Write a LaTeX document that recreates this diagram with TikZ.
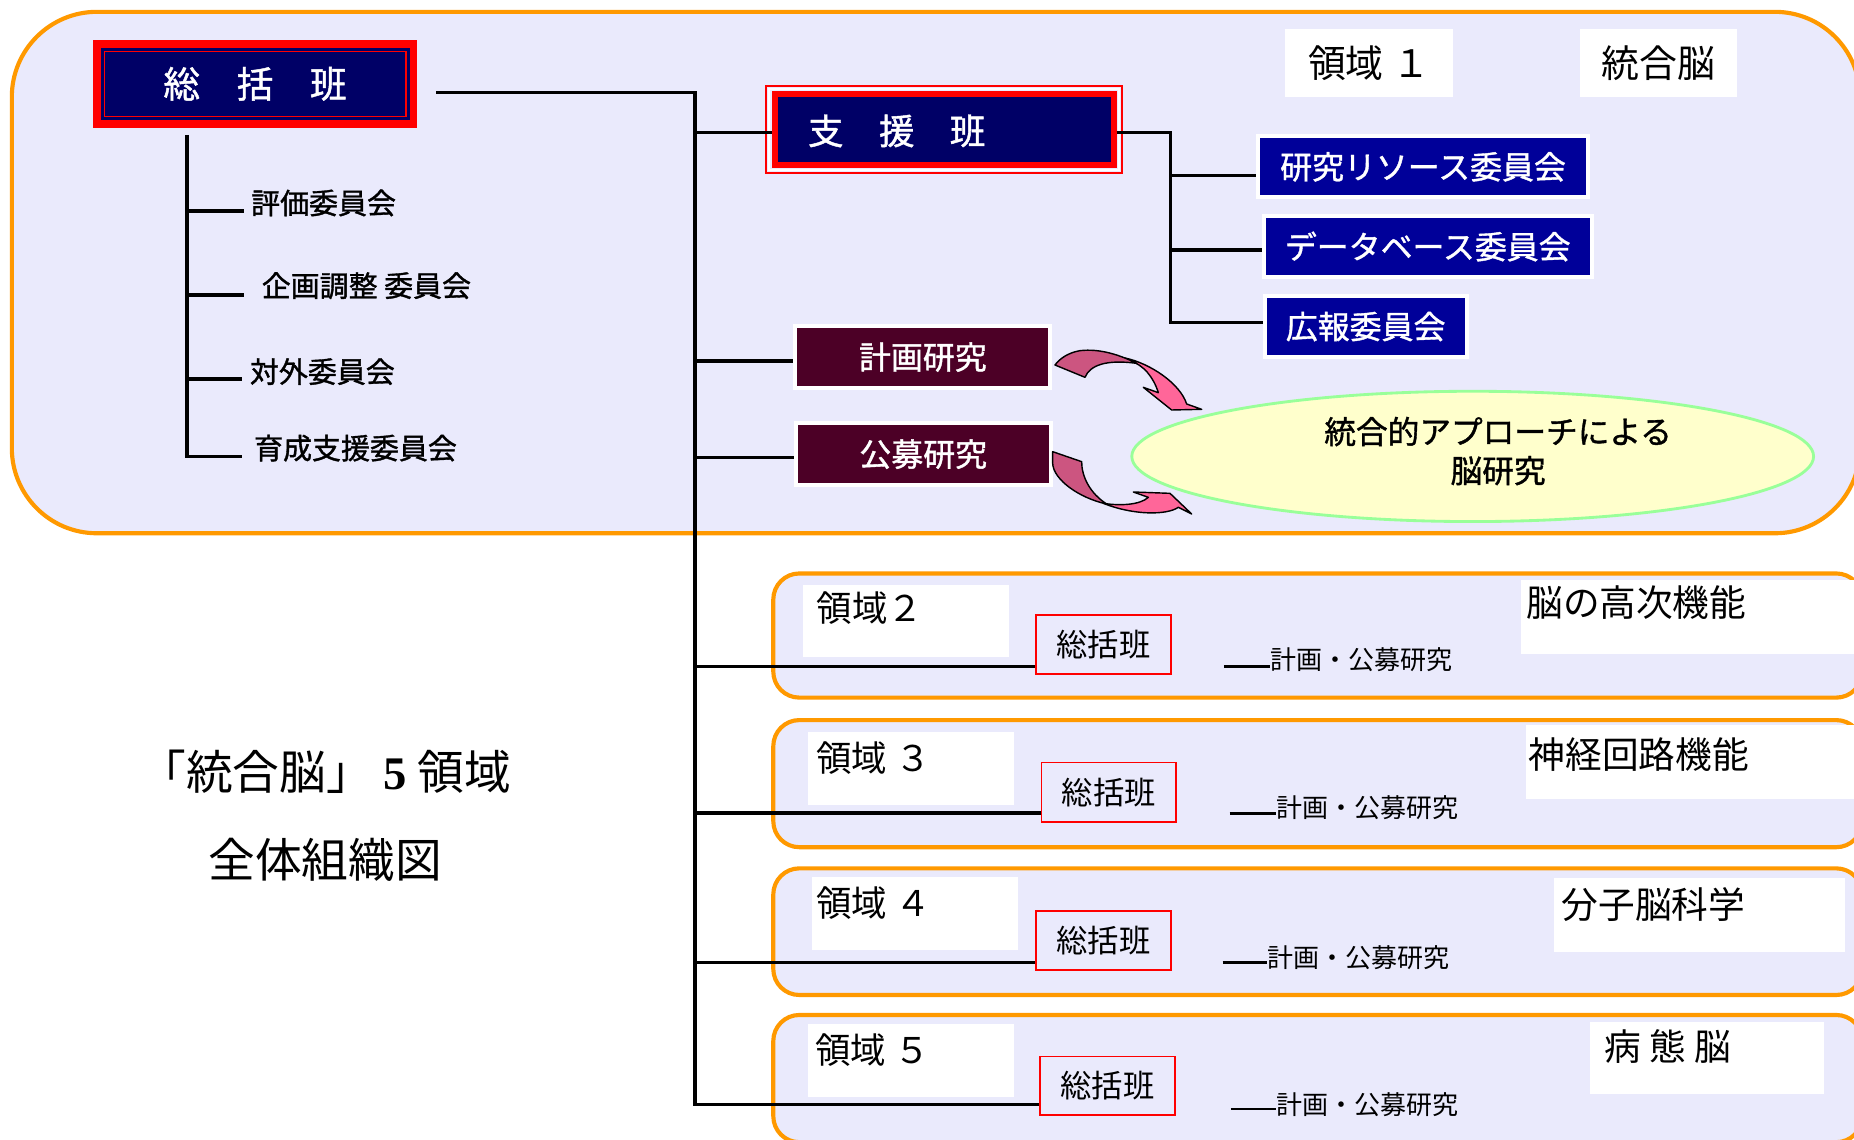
\documentclass[tikz,border=0pt]{standalone}
\usepackage{fontspec}
\setmainfont{Noto Sans CJK JP}
\newfontfamily\medjp{Noto Sans CJK JP}[FakeBold=1.2]
\newfontfamily\serifbf{Liberation Serif Bold}
\usetikzlibrary{shapes.geometric}
\definecolor{bgLav}{RGB}{234,234,252}
\definecolor{orangeB}{RGB}{255,153,0}
\definecolor{navyA}{RGB}{0,0,102}
\definecolor{blueB}{RGB}{0,0,153}
\definecolor{maroonC}{RGB}{76,0,38}
\definecolor{ellFill}{RGB}{255,255,204}
\definecolor{ellLine}{RGB}{153,255,153}
\definecolor{pinkL}{RGB}{255,102,153}
\definecolor{pinkD}{RGB}{204,85,128}
\newcommand{\myfs}[1]{\fontsize{#1}{#1}\selectfont}
\tikzset{
 ln/.style={line width=1.5pt, black},
 lnthin/.style={line width=1.1pt, black},
 regbox/.style={draw=orangeB, fill=bgLav, line width=1.75pt},
 mainbox/.style={fill=navyA, draw=red, line width=3.25pt, minimum width=133.9pt, minimum height=33.85pt, inner sep=0pt, text=white, font=\medjp\myfs{15.5pt}},
 shienbox/.style={fill=navyA, draw=red, line width=2.5pt, minimum width=143.3pt, minimum height=29.7pt, inner sep=0pt},
 bluebox/.style={fill=blueB, draw=white, line width=1.7pt, inner sep=0pt, minimum height=25.8pt, text=white, font=\medjp\myfs{13.5pt}},
 maroonbox/.style={fill=maroonC, draw=white, line width=1.7pt, inner sep=0pt, minimum width=107.8pt, minimum height=26.2pt, text=white, font=\medjp\myfs{13.5pt}},
 labelbg/.style={fill=white, draw=none, inner sep=0pt},
 smallhead/.style={draw=red, line width=0.75pt, fill=bgLav, inner sep=0pt, minimum width=57pt, minimum height=25.2pt, font=\myfs{13.25pt}},
 cmt/.style={anchor=west, inner sep=0pt, font=\medjp\myfs{12.25pt}},
 plan/.style={anchor=west, inner sep=0pt, font=\myfs{11pt}},
 lbl/.style={anchor=west, inner sep=0pt, font=\myfs{15pt}},
 rlbl/.style={anchor=west, inner sep=0pt, font=\myfs{15.5pt}},
 arrowL/.style={fill=pinkL, draw=black, line width=0.6pt, line join=round},
 arrowD/.style={fill=pinkD, draw=black, line width=0.6pt, line join=round},
}
\begin{document}
\begin{tikzpicture}[x=0.5pt,y=-0.5pt]
\useasboundingbox (0,0) rectangle (1568,963.3);
\clip (0,0) rectangle (1568,963.3);
\fill[white] (0,0) rectangle (1568,963.3);

% region frames
\draw[regbox, rounded corners=36pt] (10,10) rectangle (1573,451);
\draw[regbox, rounded corners=11pt] (654,485) rectangle (1575,590);
\draw[regbox, rounded corners=11pt] (654,609) rectangle (1575,716.5);
\draw[regbox, rounded corners=11pt] (654,734.4) rectangle (1575,841.5);
\draw[regbox, rounded corners=11pt] (654,858.4) rectangle (1575,966);

% main head box
\node[mainbox] (sk) at (215.75,70.9) {総　括　班};
\draw[red, line width=0.6pt] ([shift={(4.8pt,-4.8pt)}]sk.north west) rectangle ([shift={(-4.8pt,4.8pt)}]sk.south east);

% support box
\node[shienbox] (sh) at (798.5,109.5) {};
\draw[white, line width=0.6pt] ([shift={(-1.1pt,1.1pt)}]sh.north west) rectangle ([shift={(1.1pt,-1.1pt)}]sh.south east);
\draw[red, line width=0.6pt] ([shift={(-2.35pt,2.35pt)}]sh.north west) rectangle ([shift={(2.35pt,-2.35pt)}]sh.south east);
\node[anchor=west, inner sep=0pt, text=white, font=\medjp\myfs{15pt}] (shT) at (683,110.7) {支　援　班};

% committees under main head
\node[cmt] (cm1) at (212,171.7) {評価委員会};
\node[cmt] (cm2) at (221,241.6) {企画調整 委員会};
\node[cmt] (cm3) at (211,314.3) {対外委員会};
\node[cmt] (cm4) at (214.5,379) {育成支援委員会};
\coordinate (lv0) at (158,114);
\coordinate (lv1) at (158,178.5);
\coordinate (lv2) at (158,249.5);
\coordinate (lv3) at (158,320.6);
\coordinate (lv4) at (158,386);
\coordinate (le1) at (206,178.5);
\coordinate (le2) at (206,249.5);
\coordinate (le3) at (205,320.6);
\coordinate (le4) at (205,386);
\draw[ln] (lv0) -- (lv4) -- (le4);
\draw[ln] (lv1) -- (le1);
\draw[ln] (lv2) -- (le2);
\draw[ln] (lv3) -- (le3);

% blue committees
\node[bluebox, minimum width=139.8pt] (r1) at (1203.5,141.1) {研究リソース委員会};
\node[bluebox, minimum width=138.8pt] (r2) at (1207.5,208.5) {データベース委員会};
\node[bluebox, minimum width=85.3pt] (r3) at (1155,276.2) {広報委員会};
\coordinate (sA) at (990,112);
\coordinate (sB) at (990,272.6);
\coordinate (s1) at (990,148.6);
\coordinate (s2) at (990,211.4);
\draw[ln] (sh.east |- sA) -- (sA) -- (sB) -- (sB -| r3.west);
\draw[ln] (s1) -- (s1 -| r1.west);
\draw[ln] (s2) -- (s2 -| r2.west);

% plan / public research
\node[maroonbox] (kk) at (780.5,302) {計画研究};
\node[maroonbox] (km) at (780.8,384.1) {公募研究};

% ellipse
\node[ellipse, draw=ellLine, fill=ellFill, line width=1.2pt, minimum width=288.3pt, minimum height=55.1pt, inner sep=0pt] (ell) at (1245.5,386) {};
\node[align=center, inner sep=0pt, font=\medjp\fontsize{13.4pt}{16.5pt}\selectfont] (ellT) at (1267,381.5) {統合的アプローチによる\\脳研究};

% area 1 labels
\node[labelbg, minimum width=71.15pt, minimum height=28.5pt, font=\myfs{16pt}] (lb1) at (1157.85,53.3) {領域 １};
\node[labelbg, minimum width=66.5pt, minimum height=28.5pt, font=\myfs{16pt}] (rb1) at (1402.5,53.3) {統合脳};

% areas 2-5: label backgrounds
\node[labelbg, minimum width=87pt, minimum height=30.6pt] (lb2) at (766,525.4) {};
\node[labelbg, minimum width=87pt, minimum height=30.9pt] (lb3) at (770.6,649.9) {};
\node[labelbg, minimum width=87.1pt, minimum height=30.85pt] (lb4) at (773.9,772.65) {};
\node[labelbg, minimum width=87pt, minimum height=30.75pt] (lb5) at (770.6,896.75) {};
\node[labelbg, minimum width=152pt, minimum height=31.25pt] (rb2) at (1438,521.75) {};
\node[labelbg, minimum width=149.8pt, minimum height=31.35pt] (rb3) at (1440.2,644.35) {};
\node[labelbg, minimum width=123pt, minimum height=31.15pt] (rb4) at (1437,773.85) {};
\node[labelbg, minimum width=99pt, minimum height=30.5pt] (rb5) at (1444,894.5) {};
\node[lbl] (lt2) at (690.5,514) {領域２};
\node[lbl] (lt3) at (690,641) {領域 ３};
\node[lbl] (lt4) at (690,763.8) {領域 ４};
\node[lbl] (lt5) at (689,888) {領域 ５};
\node[rlbl] (rt2) at (1290.5,510) {脳の高次機能};
\node[rlbl] (rt3) at (1292.5,638.5) {神経回路機能};
\node[rlbl] (rt4) at (1320.5,765.4) {分子脳科学};
\node[rlbl] (rt5) at (1356.5,885) {病 態 脳};

% area heads
\node[smallhead] (k2) at (933.25,545) {総括班};
\node[smallhead] (k3) at (937.8,670) {総括班};
\node[smallhead, minimum height=25pt] (k4) at (933.25,795.3) {総括班};
\node[smallhead, minimum height=24.75pt] (k5) at (936.65,918.3) {総括班};

% plan texts
\node[plan] (kp2) at (1074.4,558) {計画・公募研究};
\node[plan] (kp3) at (1079,683.4) {計画・公募研究};
\node[plan] (kp4) at (1071.3,809.7) {計画・公募研究};
\node[plan] (kp5) at (1078.8,934.5) {計画・公募研究};
\coordinate (p2) at (1035,563.8);
\coordinate (p3) at (1040,687.8);
\coordinate (p4) at (1034,814.2);
\coordinate (p5) at (1041,938);
\draw[lnthin] (p2) -- (p2 -| kp2.west);
\draw[lnthin] (p3) -- (p3 -| kp3.west);
\draw[lnthin] (p4) -- (p4 -| kp4.west);
\draw[lnthin] (p5) -- (p5 -| kp5.west);

% main trunk
\coordinate (tA) at (369,78.4);
\coordinate (tB) at (588,78.4);
\coordinate (tEnd) at (588,934);
\coordinate (b1) at (588,112);
\coordinate (b2) at (588,305.3);
\coordinate (b3) at (588,387);
\coordinate (b4) at (588,563.8);
\coordinate (b5) at (588,687.8);
\coordinate (b6) at (588,814.2);
\draw[ln] (tA) -- (tB) -- (tEnd) -- (tEnd -| k5.west);
\draw[ln] (b1) -- (b1 -| sh.west);
\draw[ln] (b2) -- (b2 -| kk.west);
\draw[ln] (b3) -- (b3 -| km.west);
\draw[ln] (b4) -- (b4 -| k2.west);
\draw[ln] (b5) -- (b5 -| k3.west);
\draw[ln] (b6) -- (b6 -| k4.west);

% title
\node[align=center, inner sep=0pt, font=\fontsize{19.75pt}{37.35pt}\selectfont] (title) at (275,690) {「統合脳」 {\serifbf 5} 領域\\全体組織図};

% curved arrows
\begin{scope}[shift={(879.56,279.09)}, scale=0.28191]
 \path[arrowL] (255,84) .. controls (330,100) and (420,160) .. (440,222) -- (485,238) -- (395,240) -- (310,172) -- (355,188) .. controls (340,140) and (310,105) .. (270,92) -- cycle;
 \path[arrowD] (45,105) -- (135,142) .. controls (150,105) and (200,88) .. (290,100) .. controls (240,75) and (180,55) .. (120,62) .. controls (85,68) and (60,85) .. (45,105) -- cycle;
 \path[arrowL] (190,520) .. controls (240,528) and (300,525) .. (325,502) -- (280,486) -- (390,490) -- (455,552) -- (415,532) .. controls (380,556) and (280,556) .. (190,520) -- cycle;
 \path[arrowD] (38,365) -- (125,395) .. controls (125,440) and (150,490) .. (200,522) .. controls (120,505) and (40,450) .. (38,400) -- cycle;
\end{scope}
\end{tikzpicture}
\end{document}
